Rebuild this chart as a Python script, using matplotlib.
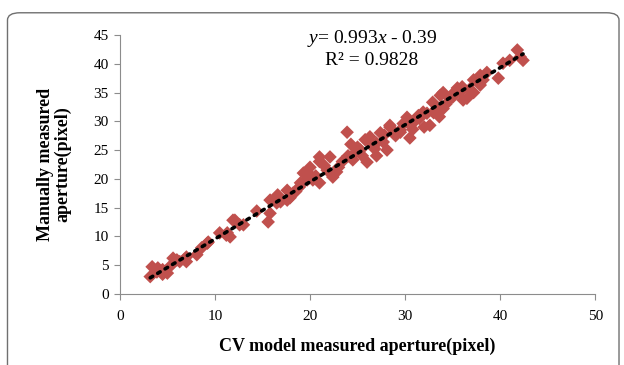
import matplotlib.pyplot as plt
from matplotlib.patches import FancyBboxPatch

plt.rcParams['font.family'] = ['Liberation Serif', 'DejaVu Serif']
plt.rcParams['mathtext.fontset'] = 'custom'
plt.rcParams['mathtext.rm'] = 'Liberation Serif'
plt.rcParams['mathtext.it'] = 'Liberation Serif:italic'

# CV model measured aperture (x) vs manually measured aperture (y)
cv_aperture = [3.2, 3.4, 3.9, 4.5, 4.5, 5.0, 5.6, 6.0, 6.3, 7.0, 7.0, 8.1, 8.6, 9.2, 9.3,
               10.5, 11.2, 11.3, 11.6, 11.9, 12.1, 12.6, 13.0, 14.4, 15.6, 15.8, 15.8, 16.5,
               16.6, 17.6, 17.6, 17.9, 18.2, 18.9, 19.0, 19.3, 19.7, 19.7, 20.0, 20.3, 21.0,
               21.0, 21.0, 21.8, 22.1, 22.4, 23.0, 23.9, 24.0, 24.5, 25.0, 25.3, 25.5, 26.0,
               26.3, 26.5, 27.0, 27.0, 27.4, 27.7, 28.1, 28.4, 28.4, 29.0, 29.5, 29.5, 30.2,
               30.2, 30.5, 31.0, 31.5, 31.9, 32.0, 32.6, 32.9, 33.0, 33.7, 34.0, 34.0, 34.7,
               35.0, 35.5, 35.8, 36.1, 36.5, 37.2, 37.2, 37.9, 37.9, 38.2, 38.6, 39.8, 40.3,
               41.0, 41.8, 42.1, 42.4,
               4.0, 5.3, 6.8, 16.9, 18.5, 20.6, 21.5, 22.8, 23.4, 24.8, 25.8, 26.8, 27.8,
               28.8, 29.8, 30.8, 31.4, 32.3, 33.3, 34.3, 35.2, 36.0, 36.8, 33.6, 24.3]
manual_aperture = [3.0, 4.7, 3.8, 4.2, 3.4, 3.6, 6.2, 5.9, 5.6, 6.4, 5.6, 6.8, 8.0, 8.8, 9.0,
                   10.6, 10.2, 10.6, 9.9, 12.8, 12.8, 12.0, 12.0, 14.4, 12.5, 14.0, 16.3, 15.8,
                   17.2, 16.3, 18.0, 16.7, 17.5, 18.6, 19.3, 21.0, 19.8, 21.2, 22.0, 19.8, 23.0,
                   23.8, 19.3, 21.5, 23.8, 20.3, 22.0, 28.1, 24.0, 23.3, 25.5, 25.0, 24.0, 22.9,
                   27.3, 26.0, 26.2, 24.0, 28.0, 26.4, 25.0, 29.0, 29.3, 27.5, 28.5, 28.1, 30.7,
                   29.9, 27.1, 30.0, 30.5, 31.6, 29.0, 29.3, 33.3, 31.5, 34.5, 32.2, 35.0, 34.0,
                   34.2, 35.8, 35.1, 33.7, 34.0, 35.0, 37.2, 38.0, 36.3, 37.2, 38.5, 37.5, 40.1,
                   40.6, 42.4, 41.2, 40.6,
                   4.5, 4.8, 6.0, 16.0, 17.8, 20.5, 22.3, 21.2, 23.0, 24.6, 26.8, 25.2, 27.6,
                   27.9, 29.6, 28.6, 31.0, 31.4, 32.2, 33.0, 35.1, 36.0, 35.6, 30.8, 26.0]

slope = 0.993
intercept = -0.39
fit_x = [3.2, 42.4]

fig = plt.figure(figsize=(6.24, 3.65), dpi=100)
ax = fig.add_axes([0.192, 0.195, 0.762, 0.709])

ax.scatter(cv_aperture, manual_aperture, marker='D', s=48, color='#C0504D',
           edgecolors='none', zorder=2)
ax.plot(fit_x, [slope * v + intercept for v in fit_x], color='black',
        linestyle=(0, (0.8, 1.6)), linewidth=2.6, dash_capstyle='round', zorder=3)

ax.set_xlim(0, 50)
ax.set_ylim(0, 45)
ax.set_xticks(range(0, 51, 10))
ax.set_yticks(range(0, 46, 5))
for side in ['top', 'right']:
    ax.spines[side].set_visible(False)
for side in ['left', 'bottom']:
    ax.spines[side].set_color('#8c8c8c')
ax.tick_params(direction='out', length=4, color='#8c8c8c', labelsize=11, pad=4)
ax.tick_params(axis='x', pad=8)

ax.set_xlabel('CV model measured aperture(pixel)', fontsize=13, fontweight='bold', labelpad=10)
ax.set_ylabel('Manually measured\naperture(pixel)', fontsize=13, fontweight='bold',
              labelpad=16, linespacing=1.0)

ax.text(0.53, 0.985, r'$\mathit{y}$= 0.993$\mathit{x}$ - 0.39', transform=ax.transAxes,
        ha='center', va='center', fontsize=14)
ax.text(0.53, 0.9, 'R² = 0.9828', transform=ax.transAxes,
        ha='center', va='center', fontsize=14)

border = FancyBboxPatch((0.012, -0.1), 0.98, 1.065, boxstyle='round,pad=0,rounding_size=0.02',
                        transform=fig.transFigure, facecolor='none', edgecolor='#707070',
                        linewidth=1.0, clip_on=False)
fig.patches.append(border)

fig.savefig('out.png', dpi=100)
